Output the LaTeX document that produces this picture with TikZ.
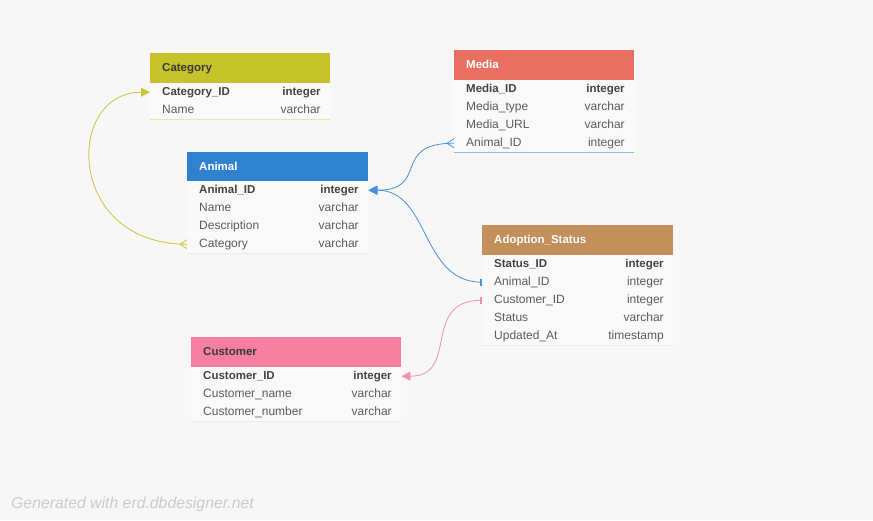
\documentclass[tikz,border=0pt]{standalone}
\usepackage{fontspec}
\setmainfont{Liberation Sans}
\usetikzlibrary{arrows.meta, positioning}

\definecolor{pagebg}{HTML}{F7F7F7}
\definecolor{rowbg}{HTML}{F9F9F9}
\definecolor{sepline}{HTML}{EAEAEA}
\definecolor{fieldtxt}{HTML}{5C5C5C}
\definecolor{keytxt}{HTML}{444444}
\definecolor{headdark}{HTML}{3A3A3A}
\definecolor{catcol}{HTML}{C5C22A}
\definecolor{mediacol}{HTML}{E86F62}
\definecolor{animalcol}{HTML}{3182CE}
\definecolor{adoptcol}{HTML}{C3905C}
\definecolor{custcol}{HTML}{F47FA1}
\definecolor{catline}{HTML}{CBC53A}
\definecolor{animline}{HTML}{4A90D9}
\definecolor{custline}{HTML}{F48FB1}

\begin{document}
\begin{tikzpicture}[x=1pt, y=-1pt,
    head/.style = {rectangle, anchor=north west, minimum height=30pt, inner xsep=12pt, inner ysep=0pt, align=left, font=\bfseries\fontsize{11.5}{12}\selectfont, text=white, text height=8.5pt, text depth=2.5pt},
    row/.style = {rectangle, anchor=north west, fill=rowbg, minimum height=18pt, inner xsep=12pt, inner ysep=0pt, align=left, font=\fontsize{12}{12}\selectfont, text=fieldtxt, text height=8.5pt, text depth=2.5pt, path picture={\draw[sepline] (path picture bounding box.south west) -- (path picture bounding box.south east);}},
    key/.style = {font=\bfseries\fontsize{11.5}{12}\selectfont, text=keytxt},
    ftype/.style = {anchor=east, xshift=-9.5pt, inner sep=0pt, font=\fontsize{12}{12}\selectfont, text=fieldtxt, text height=8.5pt, text depth=2.5pt},
    tcat/.style = {minimum width=180pt, text width=156pt},
    tmedia/.style = {minimum width=180pt, text width=156pt},
    tanimal/.style = {minimum width=181pt, text width=157pt},
    tadopt/.style = {minimum width=191pt, text width=167pt},
    tcust/.style = {minimum width=210pt, text width=186pt},
    rel/.style = {line width=0.8pt},
    onearrow/.style = {-{Triangle[length=9pt, width=9pt]}}
]

\useasboundingbox[fill=pagebg] (0,0) rectangle (873,520);

% Category
\node (category) [head, tcat, fill=catcol, text=headdark] at (150,53) {Category};
\node (cat_id) [row, tcat, key, label={[ftype, key]east:integer}] at (150,83) {Category\_ID};
\node (cat_name) [row, tcat, label={[ftype]east:varchar}, path picture={\draw[catcol!40] (path picture bounding box.south west) -- (path picture bounding box.south east);}] at (150,101) {Name};

% Media
\node (media) [head, tmedia, fill=mediacol] at (454,50) {Media};
\node (media_id) [row, tmedia, key, label={[ftype, key]east:integer}] at (454,80) {Media\_ID};
\node (media_type) [row, tmedia, label={[ftype]east:varchar}] at (454,98) {Media\_type};
\node (media_url) [row, tmedia, label={[ftype]east:varchar}] at (454,116) {Media\_URL};
\node (media_animal) [row, tmedia, label={[ftype]east:integer}, path picture={\draw[animline!60] (path picture bounding box.south west) -- (path picture bounding box.south east);}] at (454,134) {Animal\_ID};

% Animal
\node (animal) [head, tanimal, fill=animalcol] at (187,152) {Animal};
\node (animal_id) [row, tanimal, key, label={[ftype, key]east:integer}] at (187,181) {Animal\_ID};
\node (animal_name) [row, tanimal, label={[ftype]east:varchar}] at (187,199) {Name};
\node (animal_desc) [row, tanimal, label={[ftype]east:varchar}] at (187,217) {Description};
\node (animal_cat) [row, tanimal, label={[ftype]east:varchar}] at (187,235) {Category};

% Adoption_Status
\node (adoption) [head, tadopt, fill=adoptcol] at (482,225) {Adoption\_Status};
\node (as_id) [row, tadopt, key, label={[ftype, key]east:integer}] at (482,255) {Status\_ID};
\node (as_animal) [row, tadopt, label={[ftype]east:integer}] at (482,273) {Animal\_ID};
\node (as_cust) [row, tadopt, label={[ftype]east:integer}] at (482,291) {Customer\_ID};
\node (as_status) [row, tadopt, label={[ftype]east:varchar}] at (482,309) {Status};
\node (as_updated) [row, tadopt, label={[ftype]east:timestamp}] at (482,327) {Updated\_At};

% Customer
\node (customer) [head, tcust, fill=custcol, text=headdark] at (191,337) {Customer};
\node (cust_id) [row, tcust, key, label={[ftype, key]east:integer}] at (191,367) {Customer\_ID};
\node (cust_name) [row, tcust, label={[ftype]east:varchar}] at (191,385) {Customer\_name};
\node (cust_number) [row, tcust, label={[ftype]east:varchar}] at (191,403) {Customer\_number};

\node (credit) [anchor=west, inner sep=0pt, text=black!20, font=\itshape\fontsize{15.8}{16}\selectfont] at (11,504) {Generated with erd.dbdesigner.net};

% Relations
\draw [rel, catline, onearrow] (animal_cat.west) .. controls +(-122,0) and +(-85,0) .. (cat_id.west);
\draw [rel, catline] ([xshift=-7pt]animal_cat.west) -- ([yshift=4.5pt]animal_cat.west) ([xshift=-7pt]animal_cat.west) -- ([yshift=-4.5pt]animal_cat.west);

\draw [rel, animline, onearrow] (media_animal.west) .. controls +(-64,0) and +(62,0) .. (animal_id.east);
\draw [rel, animline] ([xshift=-7pt]media_animal.west) -- ([yshift=4.5pt]media_animal.west) ([xshift=-7pt]media_animal.west) -- ([yshift=-4.5pt]media_animal.west);

\draw [rel, animline, onearrow] (as_animal.west) .. controls +(-62,0) and +(62,0) .. (animal_id.east);
\fill [animline] ([xshift=-2.5pt, yshift=-3.5pt]as_animal.west) rectangle ([yshift=3.5pt]as_animal.west);

\draw [rel, custline, onearrow] (as_cust.west) .. controls +(-62,0) and +(59,0) .. (cust_id.east);
\fill [custline] ([xshift=-2.5pt, yshift=-3.5pt]as_cust.west) rectangle ([yshift=3.5pt]as_cust.west);

\end{tikzpicture}
\end{document}
